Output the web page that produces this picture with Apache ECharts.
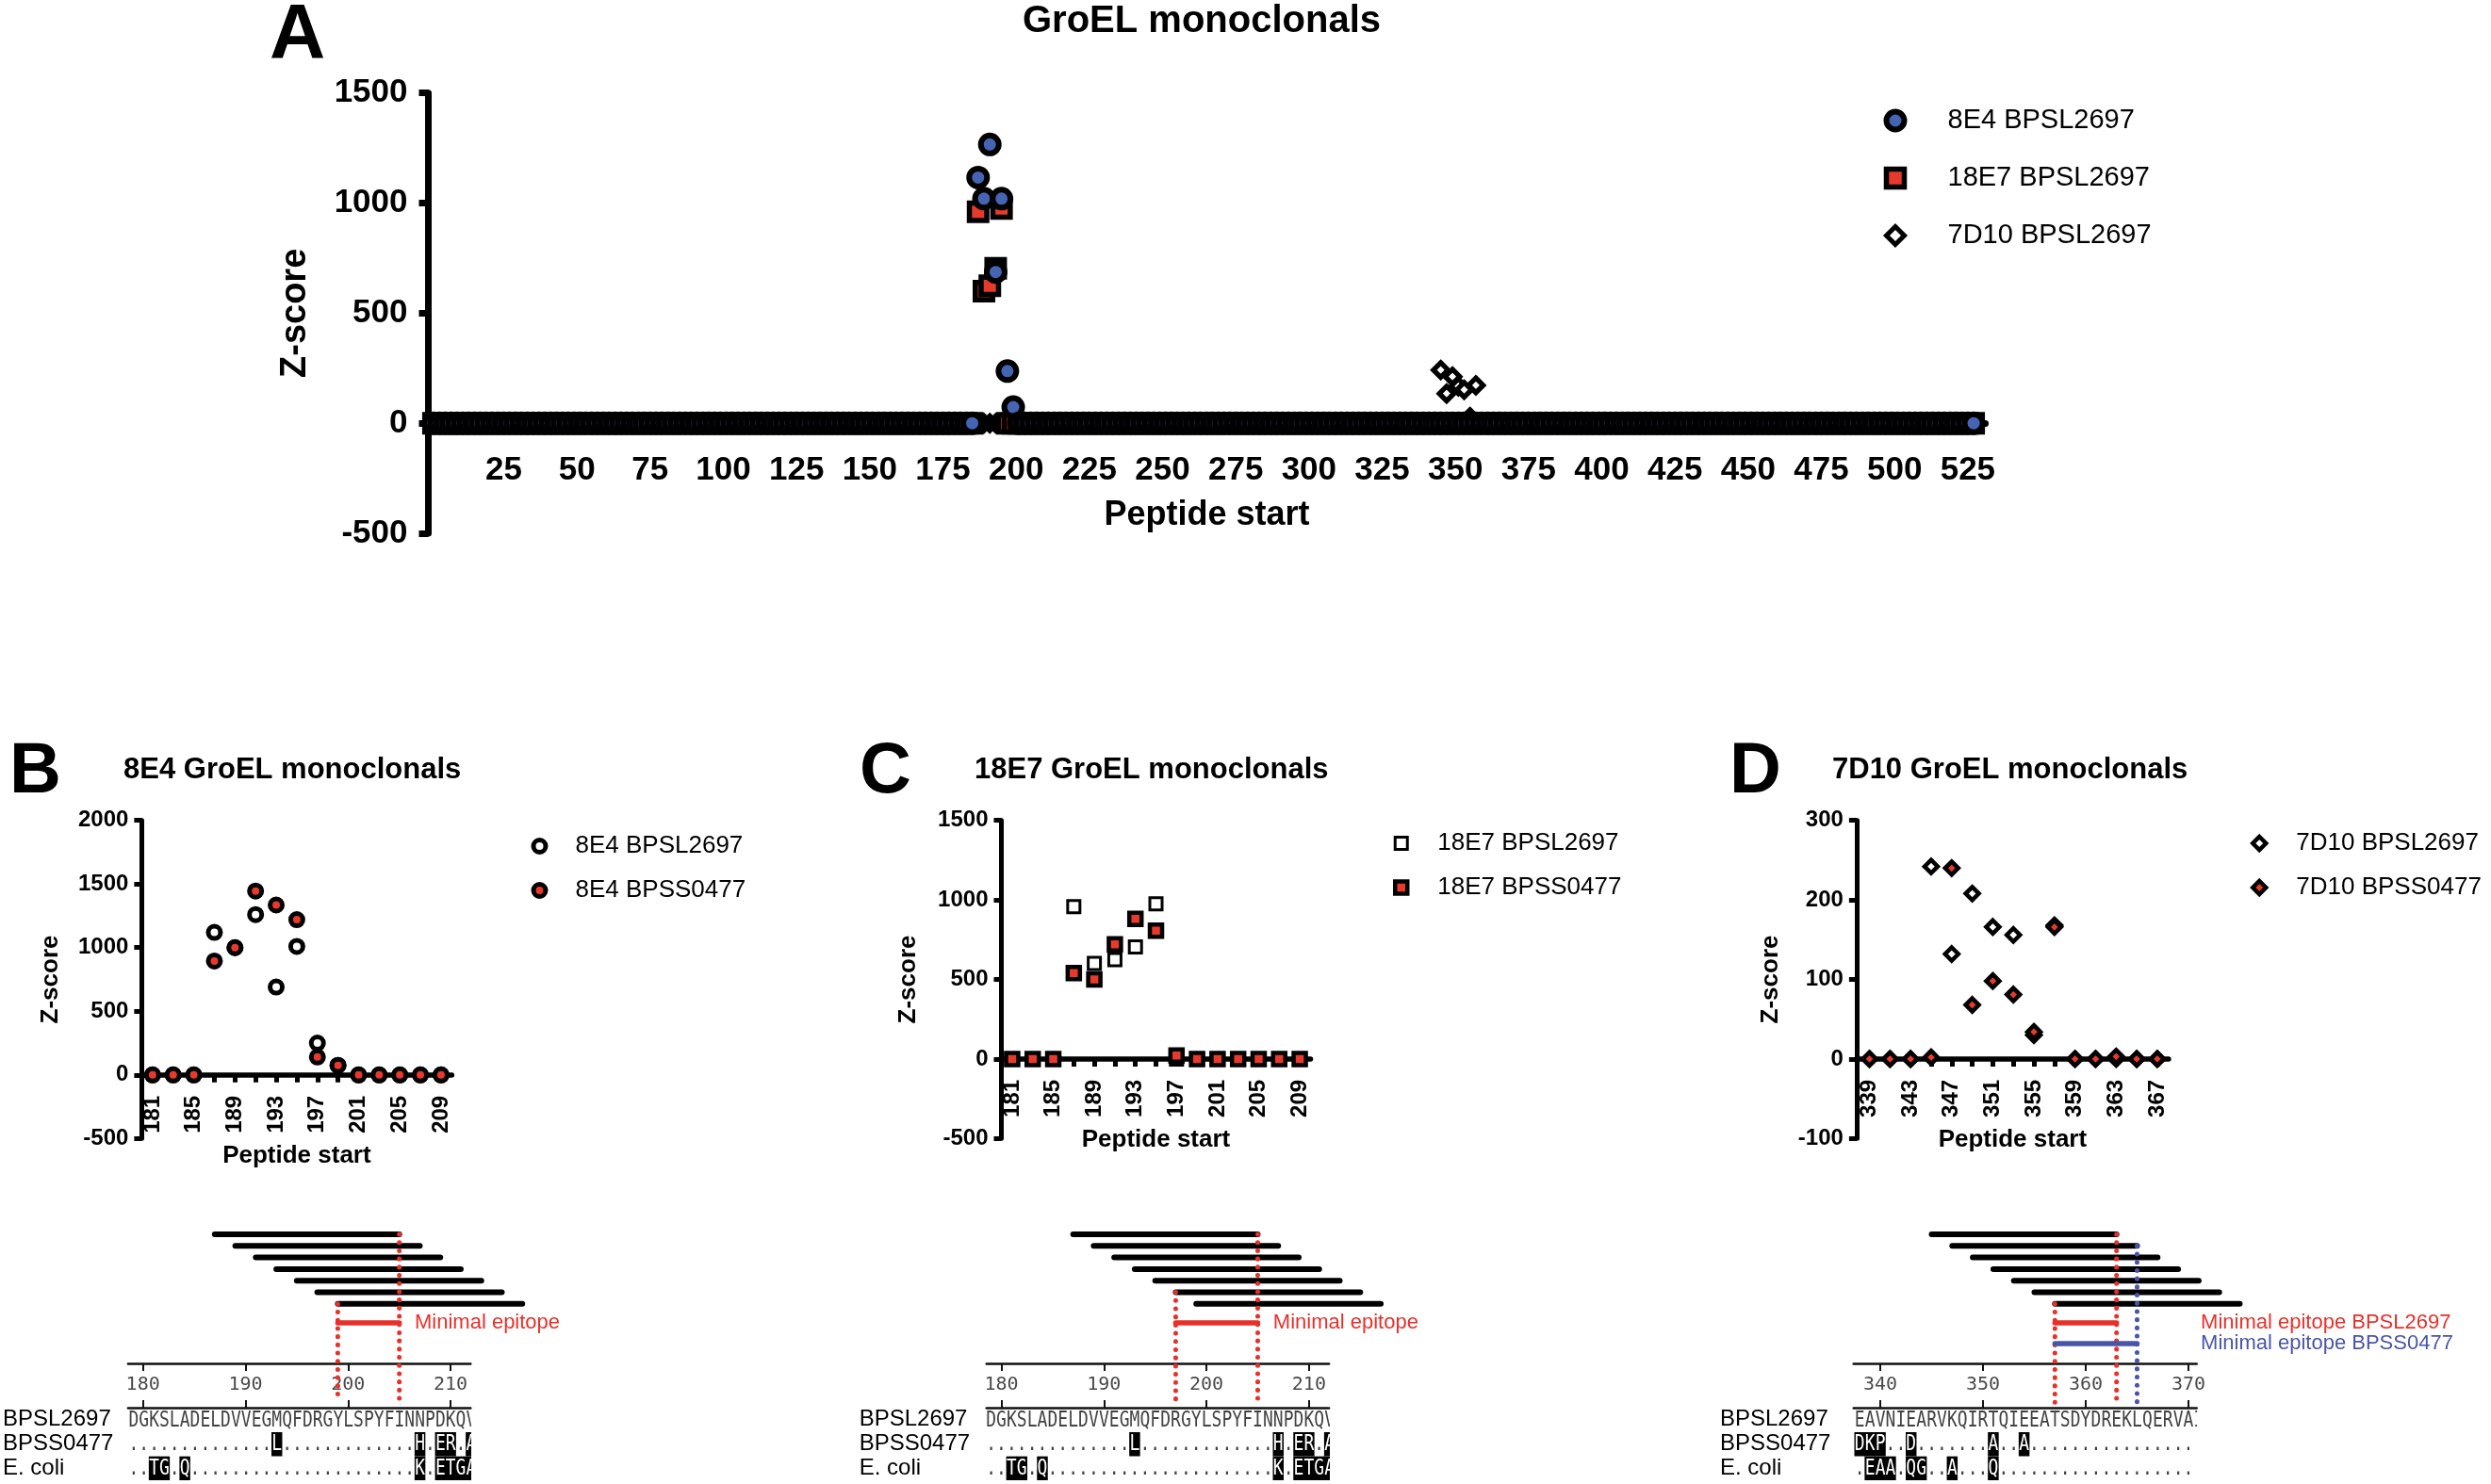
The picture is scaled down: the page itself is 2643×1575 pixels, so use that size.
<!DOCTYPE html>
<html><head><meta charset="utf-8">
<script src="https://cdn.jsdelivr.net/npm/echarts@6/dist/echarts.min.js"></script>
<style>html,body{margin:0;padding:0;background:#fff}#c{width:2643px;height:1575px}</style>
</head><body><div id="c"></div>
<script>
// ================= DATA =================
// Panel A: peptide starts of the whole GroEL library and the values (all other starts read as 0)
const aStarts = [];
for (let s = 1; s <= 527; s += 2) aStarts.push(s);
const a8E4Peaks  = {187: 1116, 189: 1020, 191: 1266, 193: 687, 195: 1020, 197: 237, 199: 73};
const a18E7Peaks = {187: 960, 189: 600, 191: 625, 193: 704, 195: 975};
const a7D10Peaks = {345: 242, 347: 135, 349: 212, 351: 168, 353: 152, 355: 28, 357: 172};
const aXLabels = [25, 50, 75, 100, 125, 150, 175, 200, 225, 250, 275, 300, 325, 350, 375, 400, 425, 450, 475, 500, 525];

// Panels B, C (starts 181..209) and D (starts 339..367)
const bcStarts = [181, 183, 185, 187, 189, 191, 193, 195, 197, 199, 201, 203, 205, 207, 209];
const bcTickLabels = [181, 185, 189, 193, 197, 201, 205, 209];
const b8E4_BPSL2697 = [0, 0, 0, 1120, 1000, 1260, 690, 1010, 250, 75, 0, 0, 0, 0, 0];
const b8E4_BPSS0477 = [0, 0, 0, 895, 1000, 1445, 1335, 1220, 140, 75, 0, 0, 0, 0, 0];
const c18E7_BPSL2697 = [0, 0, 0, 958, 600, 625, 704, 975, 0, 0, 0, 0, 0, 0, 0];
const c18E7_BPSS0477 = [0, 0, 0, 540, 500, 721, 881, 806, 22, 0, 0, 0, 0, 0, 0];
const dStarts = [339, 341, 343, 345, 347, 349, 351, 353, 355, 357, 359, 361, 363, 365, 367];
const dTickLabels = [339, 343, 347, 351, 355, 359, 363, 367];
const d7D10_BPSL2697 = [0, 0, 0, 242, 132, 208, 166, 156, 30, 168, 0, 0, 0, 0, 0];
const d7D10_BPSS0477 = [0, 0, 0, 2, 240, 68, 98, 81, 34, 166, 0, 0, 3, 0, 0];

// Alignment panels
const bcPeptideStarts = [187, 189, 191, 193, 195, 197, 199];
const bcPeptideEnds   = [205, 207, 209, 211, 213, 215, 217];
const dPeptideStarts  = [345, 347, 349, 351, 353, 355, 357];
const dPeptideEnds    = [363, 365, 367, 369, 371, 373, 375];
const bEpitope = [199, 205];
const cEpitope = [197, 205];
const dEpitopeBPSL2697 = [357, 363];
const dEpitopeBPSS0477 = [357, 365];
const bcRulerTicks = [180, 190, 200, 210];
const dRulerTicks = [340, 350, 360, 370];
const seqNames = ['BPSL2697', 'BPSS0477', 'E. coli'];
const bcSeqStart = 179;
const bcSeq = ['DGKSLADELDVVEGMQFDRGYLSPYFINNPDKQV',
               '..............L.............H.ER.A',
               '..TG.Q......................K.ETGA'];
const dSeqStart = 338;
const dSeq = ['EAVNIEARVKQIRTQIEEATSDYDREKLQERVAI',
              'DKP..D.......A..A.................',
              '.EAA.QG..A...Q....................'];

// ================= STYLE =================
const FONT = 'Liberation Sans, Arial, sans-serif';
const MONO = 'DejaVu Sans Mono, monospace';
const BLUE = '#4664b4', RED = '#e83a2c', LRED = '#e8302a', LBLUE = '#4a55a8';
const plain = v => String(v);

const chart = echarts.init(document.getElementById('c'), null, {renderer: 'canvas', width: 2643, height: 1575});
const grids = [], xAxes = [], yAxes = [], series = [], legends = [], graphics = [];
const addGrid = g => (grids.push(g), grids.length - 1);
const addX = a => (xAxes.push(a), xAxes.length - 1);
const addY = a => (yAxes.push(a), yAxes.length - 1);
const bold = (size) => ({fontSize: size, fontWeight: 'bold', color: '#000', fontFamily: FONT});
const hidden = {show: false};
function sym(symbol, size, fill, bw) {
  return {symbol, symbolSize: size, itemStyle: {color: fill, borderColor: '#000', borderWidth: bw, opacity: 1}};
}

// ================= PANEL A =================
const A_TOP = 98.7, A_H = 467.3, A_LEFT = 454.5, A_W = 1652;
const gA = addGrid({left: A_LEFT, top: A_TOP, width: A_W, height: A_H});
const xA = addX({gridIndex: gA, type: 'value', min: -0.75, max: 531,
  axisLine: {show: true, onZero: true, lineStyle: {color: '#000', width: 7}},
  axisTick: hidden, axisLabel: hidden, splitLine: hidden});
const yA = addY({gridIndex: gA, type: 'value', min: -500, max: 1500, interval: 500,
  axisLine: {show: true, onZero: false, lineStyle: {color: '#000', width: 7}},
  axisTick: {show: true, length: 10, lineStyle: {color: '#000', width: 7}},
  axisLabel: {margin: 22, formatter: plain, ...bold(35)},
  splitLine: hidden,
  name: 'Z-score', nameLocation: 'middle', nameGap: 122, nameRotate: 90, nameTextStyle: bold(38)});
// label grid: its bottom edge sits on the zero line of panel A
const gAL = addGrid({left: A_LEFT, top: A_TOP, width: A_W, height: A_H * 1500 / 2000});
addX({gridIndex: gAL, type: 'value', min: -0.75, max: 531,
  axisLine: hidden, axisTick: hidden, splitLine: hidden,
  axisLabel: {customValues: aXLabels, margin: 33, ...bold(35)},
  name: 'Peptide start', nameLocation: 'middle', nameGap: 80, nameTextStyle: bold(36)});
addY({gridIndex: gAL, type: 'value', min: 0, max: 1, show: false, splitLine: hidden});

const fromPeaks = (starts, peaks) => starts.map(s => [s, peaks[s] !== undefined ? peaks[s] : 0]);
series.push({type: 'scatter', name: '7D10 BPSL2697', xAxisIndex: xA, yAxisIndex: yA, silent: true,
  ...sym('diamond', 15.5, '#fff', 5.3), data: fromPeaks(aStarts, a7D10Peaks)});
series.push({type: 'scatter', name: '18E7 BPSL2697', xAxisIndex: xA, yAxisIndex: yA, silent: true,
  ...sym('rect', 18.5, RED, 5.5), data: fromPeaks(aStarts, a18E7Peaks)});
series.push({type: 'scatter', name: '8E4 BPSL2697', xAxisIndex: xA, yAxisIndex: yA, silent: true,
  ...sym('circle', 19, BLUE, 6), data: fromPeaks(aStarts, a8E4Peaks)});
legends.push({left: 1998.5, top: 113, orient: 'vertical', padding: 0, itemWidth: 19, itemHeight: 19, itemGap: 31,
  selectedMode: false, textStyle: {fontSize: 29, lineHeight: 30, fontFamily: FONT, color: '#000', padding: [0, 0, 0, 41]},
  data: [
    {name: '8E4 BPSL2697', icon: 'circle', itemStyle: {color: BLUE, borderColor: '#000', borderWidth: 6}},
    {name: '18E7 BPSL2697', icon: 'rect', itemStyle: {color: RED, borderColor: '#000', borderWidth: 5.5}},
    {name: '7D10 BPSL2697', icon: 'diamond', itemStyle: {color: '#fff', borderColor: '#000', borderWidth: 5}}
  ]});
graphics.push({type: 'text', x: 286, y: 38, style: {text: 'A', font: 'bold 82px ' + FONT, fill: '#000', align: 'left', verticalAlign: 'middle'}});
graphics.push({type: 'text', x: 1275, y: 23, style: {text: 'GroEL monoclonals', font: 'bold 40px ' + FONT, fill: '#000', align: 'center', verticalAlign: 'middle'}});

// ================= PANELS B, C, D =================
const P_TOP = 870.7, P_H = 337.6;
function smallPanel(p) {
  const g = addGrid({left: p.left, top: P_TOP, width: p.width, height: P_H});
  const xi = addX({gridIndex: g, type: 'value', min: p.xMin, max: p.xMax,
    axisLine: {show: true, onZero: true, lineStyle: {color: '#000', width: 5.5}},
    axisTick: {show: true, customValues: p.starts, length: 8, lineStyle: {color: '#000', width: 5}},
    axisLabel: hidden, splitLine: hidden});
  const yi = addY({gridIndex: g, type: 'value', min: p.yMin, max: p.yMax, interval: p.yInt,
    axisLine: {show: true, onZero: false, lineStyle: {color: '#000', width: 5}},
    axisTick: {show: true, length: 8, lineStyle: {color: '#000', width: 5}},
    axisLabel: {margin: 14, formatter: plain, ...bold(24)},
    splitLine: hidden,
    name: 'Z-score', nameLocation: 'middle', nameGap: p.nameGap, nameRotate: 90, nameTextStyle: bold(26)});
  // label grid whose bottom is the zero line
  const gl = addGrid({left: p.left, top: P_TOP, width: p.width, height: P_H * p.yMax / (p.yMax - p.yMin)});
  addX({gridIndex: gl, type: 'value', min: p.xMin, max: p.xMax,
    axisLine: hidden, axisTick: hidden, splitLine: hidden,
    axisLabel: {customValues: p.tickLabels, rotate: 90, margin: 22, ...bold(24)},
    name: 'Peptide start', nameLocation: 'middle', nameGap: 73, nameTextStyle: bold(26)});
  addY({gridIndex: gl, type: 'value', min: 0, max: 1, show: false, splitLine: hidden});
  p.series.forEach(s => {
    series.push({type: 'scatter', name: s.name, xAxisIndex: xi, yAxisIndex: yi, silent: true,
      ...sym(s.symbol, s.size, s.fill, s.bw),
      data: p.starts.map((st, i) => [st, s.values[i]])});
  });
  legends.push({left: p.legendX - p.iconSize / 2, top: p.legendY - 13, orient: 'vertical', padding: 0,
    itemWidth: p.iconSize, itemHeight: p.iconSize, itemGap: 21, selectedMode: false,
    textStyle: {fontSize: 26, lineHeight: 26, fontFamily: FONT, color: '#000', padding: [0, 0, 0, p.textX - (p.legendX + p.iconSize / 2 + 5)]},
    data: p.series.map(s => ({name: s.name, icon: s.symbol, itemStyle: {color: s.fill, borderColor: '#000', borderWidth: s.bw}}))});
  graphics.push({type: 'text', x: p.letterX, y: 820, style: {text: p.letter, font: 'bold 76px ' + FONT, fill: '#000', align: 'left', verticalAlign: 'middle'}});
  graphics.push({type: 'text', x: p.titleX, y: 817, style: {text: p.title, font: 'bold 31px ' + FONT, fill: '#000', align: 'left', verticalAlign: 'middle'}});
}

smallPanel({left: 150.4, width: 329, xMin: 179.95, xMax: 210.05, yMin: -500, yMax: 2000, yInt: 500, nameGap: 84,
  starts: bcStarts, tickLabels: bcTickLabels, letter: 'B', letterX: 10, title: '8E4 GroEL monoclonals', titleX: 131,
  legendX: 570, legendY: 898, textX: 608, iconSize: 13,
  series: [
    {name: '8E4 BPSL2697', symbol: 'circle', size: 13, fill: '#fff', bw: 5, values: b8E4_BPSL2697},
    {name: '8E4 BPSS0477', symbol: 'circle', size: 13, fill: RED, bw: 5, values: b8E4_BPSS0477}
  ]});
smallPanel({left: 1062.5, width: 328, xMin: 179.95, xMax: 210.05, yMin: -500, yMax: 1500, yInt: 500, nameGap: 86,
  starts: bcStarts, tickLabels: bcTickLabels, letter: 'C', letterX: 912, title: '18E7 GroEL monoclonals', titleX: 1034,
  legendX: 1484.5, legendY: 895, textX: 1523, iconSize: 13,
  series: [
    {name: '18E7 BPSL2697', symbol: 'rect', size: 13, fill: '#fff', bw: 3, values: c18E7_BPSL2697},
    {name: '18E7 BPSS0477', symbol: 'rect', size: 13, fill: RED, bw: 4.5, values: c18E7_BPSS0477}
  ]});
smallPanel({left: 1969.9, width: 331, xMin: 337.75, xMax: 368.1, yMin: -100, yMax: 300, yInt: 100, nameGap: 78,
  starts: dStarts, tickLabels: dTickLabels, letter: 'D', letterX: 1835, title: '7D10 GroEL monoclonals', titleX: 1944,
  legendX: 2395, legendY: 895, textX: 2434, iconSize: 14,
  series: [
    {name: '7D10 BPSL2697', symbol: 'diamond', size: 14, fill: '#fff', bw: 4.5, values: d7D10_BPSL2697},
    {name: '7D10 BPSS0477', symbol: 'diamond', size: 14, fill: RED, bw: 4.5, values: d7D10_BPSS0477}
  ]});

// ================= ALIGNMENT PANELS =================
const ROW_PX = 12.3, BAR_TOP = 1310, BAR_H = 180;
function alignPanel(p) {
  // bars grid
  const gb = addGrid({left: p.left, top: BAR_TOP, width: p.width, height: BAR_H});
  const xb = addX({gridIndex: gb, type: 'value', min: p.xMin, max: p.xMax, show: false, splitLine: hidden});
  const yb = addY({gridIndex: gb, type: 'value', min: 0, max: BAR_H / ROW_PX, inverse: true, show: false, splitLine: hidden});
  const pepData = p.pepStarts.map((s, i) => [s, p.pepEnds[i], i]);
  series.push({type: 'custom', coordinateSystem: 'cartesian2d', xAxisIndex: xb, yAxisIndex: yb, silent: true, z: 3,
    data: pepData,
    renderItem: (params, api) => {
      const a = api.coord([api.value(0), api.value(2)]), b = api.coord([api.value(1), api.value(2)]);
      return {type: 'line', shape: {x1: a[0], y1: a[1], x2: b[0], y2: b[1]},
        style: {stroke: '#000', lineWidth: 6, lineCap: 'round'}};
    }});
  // dotted guide lines
  series.push({type: 'custom', coordinateSystem: 'cartesian2d', xAxisIndex: xb, yAxisIndex: yb, silent: true, z: 5,
    data: p.dotted.map(d => [d.res, d.fromRow, d.toRow]),
    renderItem: (params, api) => {
      const d = p.dotted[params.dataIndex];
      const a = api.coord([api.value(0), api.value(1)]), b = api.coord([api.value(0), api.value(2)]);
      return {type: 'line', shape: {x1: a[0], y1: a[1], x2: b[0], y2: b[1]},
        style: {stroke: d.color, lineWidth: 5, lineCap: 'round', lineDash: [0.1, 8.6]}};
    }});
  // minimal epitope bars + labels
  series.push({type: 'custom', coordinateSystem: 'cartesian2d', xAxisIndex: xb, yAxisIndex: yb, silent: true, z: 6,
    data: p.epitopes.map(e => [e.range[0], e.range[1], e.row]),
    renderItem: (params, api) => {
      const e = p.epitopes[params.dataIndex];
      const a = api.coord([api.value(0), api.value(2)]), b = api.coord([api.value(1), api.value(2)]);
      const t = api.coord([e.labelRes, api.value(2)]);
      return {type: 'group', children: [
        {type: 'line', shape: {x1: a[0], y1: a[1], x2: b[0], y2: b[1]}, style: {stroke: e.color, lineWidth: 5.5, lineCap: 'round'}},
        {type: 'text', x: t[0], y: t[1], style: {text: e.label, fill: e.color, font: '22px ' + FONT, align: 'left', verticalAlign: 'middle'}}
      ]};
    }});
  // ruler grid
  const gr = addGrid({left: p.left, top: 1447, width: p.width, height: 47});
  addX({gridIndex: gr, type: 'value', position: 'top', min: p.xMin, max: p.xMax,
    axisLine: {show: true, onZero: false, lineStyle: {color: '#111', width: 2.5}},
    axisTick: {show: true, inside: true, customValues: p.ruler, length: 8, lineStyle: {color: '#111', width: 2}},
    axisLabel: {inside: true, customValues: p.ruler, margin: 13, fontSize: 20, fontFamily: MONO, color: '#4a4a4a'},
    splitLine: hidden});
  addX({gridIndex: gr, type: 'value', position: 'bottom', min: p.xMin, max: p.xMax,
    axisLine: {show: true, onZero: false, lineStyle: {color: '#111', width: 2.5}},
    axisTick: {show: true, inside: true, customValues: p.ruler, length: 8, lineStyle: {color: '#111', width: 2}},
    axisLabel: hidden, splitLine: hidden});
  addY({gridIndex: gr, type: 'value', min: 0, max: 1, show: false, splitLine: hidden});
  // sequence grid
  const gs = addGrid({left: p.left, top: 1494, width: p.width, height: 77});
  const xs = addX({gridIndex: gs, type: 'value', min: p.xMin, max: p.xMax, show: false, splitLine: hidden});
  const ys = addY({gridIndex: gs, type: 'category', data: seqNames, inverse: true,
    axisLine: hidden, axisTick: hidden, splitLine: hidden,
    axisLabel: {interval: 0, align: 'left', margin: p.labelMargin, fontSize: 24, fontFamily: FONT, color: '#000'}});
  const chars = [], seqData = [];
  p.seq.forEach((str, r) => {
    for (let i = 0; i < str.length; i++) {
      chars.push({ch: str[i], hl: r > 0 && str[i] !== '.'});
      seqData.push([p.seqStart + i, r]);
    }
  });
  series.push({type: 'custom', coordinateSystem: 'cartesian2d', xAxisIndex: xs, yAxisIndex: ys, silent: true, clip: true, z: 4,
    data: seqData,
    renderItem: (params, api) => {
      const c = chars[params.dataIndex];
      const pt = api.coord([api.value(0), api.value(1)]);
      const sz = api.size([1, 1]);
      const kids = [];
      if (c.hl) kids.push({type: 'rect', shape: {x: pt[0] - sz[0] / 2 - 0.3, y: pt[1] - 12.5, width: sz[0] + 0.6, height: 25.5}, style: {fill: '#000'}});
      kids.push({type: 'text', x: pt[0], y: pt[1] + 1, scaleX: 0.78,
        style: {text: c.ch, fill: c.hl ? '#fff' : '#444', font: '23px ' + MONO, align: 'center', verticalAlign: 'middle'}});
      return {type: 'group', children: kids};
    }});
}

alignPanel({left: 135.9, width: 363.4, xMin: 178.55, xMax: 211.95, labelMargin: 134,
  pepStarts: bcPeptideStarts, pepEnds: bcPeptideEnds, ruler: bcRulerTicks, seq: bcSeq, seqStart: bcSeqStart,
  dotted: [{res: bEpitope[1], fromRow: 0, toRow: 14.4, color: LRED}, {res: bEpitope[0], fromRow: 6, toRow: 14.4, color: LRED}],
  epitopes: [{range: bEpitope, row: 7.64, color: LRED, label: 'Minimal epitope', labelRes: 206.5}]});
alignPanel({left: 1046.7, width: 363.4, xMin: 178.55, xMax: 211.95, labelMargin: 135,
  pepStarts: bcPeptideStarts, pepEnds: bcPeptideEnds, ruler: bcRulerTicks, seq: bcSeq, seqStart: bcSeqStart,
  dotted: [{res: cEpitope[1], fromRow: 0, toRow: 14.4, color: LRED}, {res: cEpitope[0], fromRow: 5, toRow: 14.4, color: LRED}],
  epitopes: [{range: cEpitope, row: 7.64, color: LRED, label: 'Minimal epitope', labelRes: 206.5}]});
alignPanel({left: 1966.7, width: 364, xMin: 337.4, xMax: 370.8, labelMargin: 141.7,
  pepStarts: dPeptideStarts, pepEnds: dPeptideEnds, ruler: dRulerTicks, seq: dSeq, seqStart: dSeqStart,
  dotted: [{res: dEpitopeBPSL2697[1], fromRow: 0, toRow: 14.5, color: LRED},
           {res: dEpitopeBPSS0477[1], fromRow: 1, toRow: 14.5, color: LBLUE},
           {res: dEpitopeBPSL2697[0], fromRow: 6, toRow: 14.5, color: LRED}],
  epitopes: [{range: dEpitopeBPSL2697, row: 7.64, color: LRED, label: 'Minimal epitope BPSL2697', labelRes: 371.2},
             {range: dEpitopeBPSS0477, row: 9.43, color: LBLUE, label: 'Minimal epitope BPSS0477', labelRes: 371.2}]});

chart.setOption({
  backgroundColor: '#fff', animation: false, tooltip: {show: false},
  grid: grids, xAxis: xAxes, yAxis: yAxes, series, legend: legends, graphic: {elements: graphics}
});
</script></body></html>
